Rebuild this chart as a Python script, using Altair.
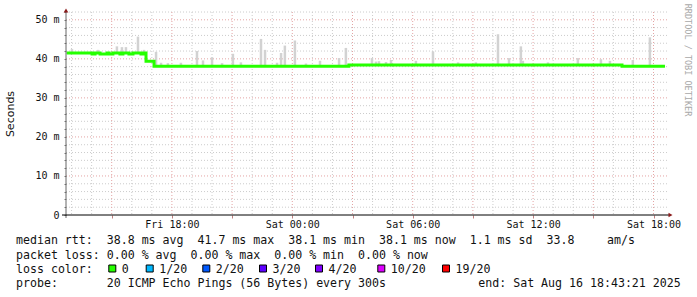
import altair as alt
import pandas as pd

# ---------------- data (time = hours since Fri 2025-08-15 00:00) ----------------
T_START = 12.7225   # Fri 12:43:21
T_END = 42.7225     # Sat 18:43:21

median_t = [12.76, 14.02, 14.17, 14.42, 14.77, 14.87, 15.06, 15.41, 15.56, 15.86,
            16.06, 16.46, 16.56, 16.71, 17.11, 26.82, 40.43, 42.57]
median_ms = [41.5, 41.25, 41.5, 41.25, 41.5, 41.25, 41.5, 41.25, 41.5, 41.25,
             41.5, 41.25, 41.5, 39.4, 38.1, 38.4, 38.1, 38.1]

smoke_t = [13.02, 14.32, 15.26, 15.51, 15.71, 16.31, 16.61, 17.21, 17.46, 17.80,
           18.45, 19.25, 19.55, 20.00, 20.50, 21.04, 21.44, 22.44, 22.64, 23.24,
           23.44, 23.63, 24.13, 24.68, 25.38, 26.33, 26.67, 27.97, 28.17, 28.32,
           28.67, 28.92, 30.16, 31.01, 32.26, 33.15, 34.25, 34.80, 35.39, 35.49,
           36.74, 38.23, 39.38, 39.83, 40.97, 41.82]
smoke_top = [42.5, 42.3, 43.2, 43.0, 43.0, 45.7, 42.3, 41.8, 39.0, 38.9,
             39.0, 42.0, 39.6, 40.4, 38.9, 41.3, 39.1, 45.1, 42.3, 39.0,
             41.5, 43.4, 44.7, 38.8, 39.5, 40.2, 42.8, 40.2, 39.3, 39.4,
             39.2, 39.7, 39.5, 41.9, 39.1, 39.1, 46.3, 40.2, 43.2, 39.5,
             39.1, 40.2, 39.9, 39.5, 39.7, 45.5]

y_label_values = [0, 10, 20, 30, 40, 50]
x_label_hours = [18, 24, 30, 36, 42]
x_label_texts = ["Fri 18:00", "Sat 00:00", "Sat 06:00", "Sat 12:00", "Sat 18:00"]

stats_line = "median rtt:  38.8 ms avg  41.7 ms max  38.1 ms min  38.1 ms now  1.1 ms sd  33.8"
stats_unit = "am/s"
loss_line = "packet loss: 0.00 % avg  0.00 % max  0.00 % min  0.00 % now"
probe_line = "probe:       20 ICMP Echo Pings (56 Bytes) every 300s"
end_text = "end: Sat Aug 16 18:43:21 2025"
loss_labels = ["0", "1/20", "2/20", "3/20", "4/20", "10/20", "19/20"]
loss_colors = ["#26ff00", "#00b8ff", "#0059ff", "#5e00ff", "#7e00ff", "#dd00ff", "#ff0000"]

# ---------------- layout ----------------
W, H = 602, 203
PAD = {"left": 66, "top": 12, "right": 29, "bottom": 82}
MONO = "DejaVu Sans Mono"
legend_sq_px = [112.3, 149.7, 206.3, 263.0, 319.0, 381.3, 446.0]   # absolute px centres


def nb(s):
    return s.replace(" ", "\u00a0")


def median_at(t):
    v = median_ms[0]
    for tt, mv in zip(median_t, median_ms):
        if tt <= t:
            v = mv
    return v


med_df = pd.DataFrame({"t": median_t, "v": median_ms})
smoke_df = pd.DataFrame({"t": smoke_t, "v": [median_at(t) for t in smoke_t], "v2": smoke_top})

hours = list(range(13, 43))
grid_x_minor = pd.DataFrame({"t": [h for h in hours if h % 3 != 0]})
grid_x_major = pd.DataFrame({"t": [h for h in hours if h % 3 == 0]})
grid_y_minor = pd.DataFrame({"v": [v for v in range(2, 53, 2) if v % 10 != 0]})
grid_y_major = pd.DataFrame({"v": [v for v in range(10, 51, 10)]})

xs = alt.Scale(domain=[T_START, T_END], nice=False, zero=False)
ys = alt.Scale(domain=[0, 52], nice=False, zero=True)

x_expr = " : ".join(
    f"datum.value == {h} ? '{lab}'" for h, lab in zip(x_label_hours, x_label_texts)
) + " : ''"
X_AX = alt.Axis(
    values=list(range(15, 43, 3)), labelExpr=x_expr, title=None, domain=False, grid=False,
    tickSize=3, tickColor="#c08080", labelFont=MONO, labelFontSize=10, labelColor="#111",
    labelPadding=1, labelAngle=0, labelFlush=False, labelOverlap=False,
)
Y_AX = alt.Axis(
    values=list(range(0, 53, 2)),
    labelExpr="datum.value % 10 == 0 ? (datum.value == 0 ? '0' : datum.value + ' m') : ''",
    title=None, domain=False, grid=False, tickSize=2, tickColor="#777",
    labelFont=MONO, labelFontSize=10, labelColor="#111", labelPadding=5,
)

X = alt.X("t:Q", scale=xs, axis=X_AX)
Y = alt.Y("v:Q", scale=ys, axis=Y_AX)

dot = [1, 2]
l_gx_minor = alt.Chart(grid_x_minor).mark_rule(color="#cccccc", strokeDash=dot, strokeWidth=1).encode(
    x=X, y=alt.value(0), y2=alt.value(H))
l_gx_major = alt.Chart(grid_x_major).mark_rule(color="#e4a4a4", strokeDash=dot, strokeWidth=1).encode(
    x=X, y=alt.value(0), y2=alt.value(H))
l_gy_minor = alt.Chart(grid_y_minor).mark_rule(color="#cccccc", strokeDash=dot, strokeWidth=1).encode(
    y=Y, x=alt.value(0), x2=alt.value(W))
l_gy_major = alt.Chart(grid_y_major).mark_rule(color="#e4a4a4", strokeDash=dot, strokeWidth=1).encode(
    y=Y, x=alt.value(0), x2=alt.value(W))

l_smoke = alt.Chart(smoke_df).mark_rule(color="#d2d2d2", strokeWidth=2.5).encode(
    x=X, y=Y, y2="v2:Q")

l_med_black = alt.Chart(med_df).mark_line(color="#000000", strokeWidth=1, interpolate="step-after").encode(
    x=X, y=Y)
l_med = alt.Chart(med_df).mark_line(color="#26ff00", strokeWidth=3, interpolate="step-after").encode(
    x=X, y=Y)

one = pd.DataFrame({"a": [0]})
l_yaxis = alt.Chart(one).mark_rule(color="#666666", strokeWidth=1).encode(
    x=alt.value(0), x2=alt.value(0), y=alt.value(-2), y2=alt.value(H + 3))
l_xaxis = alt.Chart(one).mark_rule(color="#000000", strokeWidth=1).encode(
    x=alt.value(-4), x2=alt.value(W + 1), y=alt.value(H), y2=alt.value(H))
l_yarrow = alt.Chart(one).mark_point(shape="triangle-up", filled=True, color="#8b1c1c", size=22, opacity=1).encode(
    x=alt.value(0), y=alt.value(-1.5))
l_xarrow = alt.Chart(one).mark_point(shape="triangle-right", filled=True, color="#8b1c1c", size=22, opacity=1).encode(
    x=alt.value(W + 2.5), y=alt.value(H))

l_ytitle = alt.Chart(one).mark_text(text="Seconds", font="DejaVu Sans", fontSize=11, angle=270,
                                    color="#111", align="center", baseline="middle").encode(
    x=alt.value(10.5 - PAD["left"]), y=alt.value(114 - PAD["top"]))
l_rrd = alt.Chart(one).mark_text(text="RRDTOOL / TOBI OETIKER", font=MONO, fontSize=8.5, angle=90,
                                 color="#a8a8a8", align="center", baseline="middle").encode(
    x=alt.value(687.5 - PAD["left"]), y=alt.value(60 - PAD["top"]))

LX = 16 - PAD["left"]
row_y = [241 - PAD["top"], 255.5 - PAD["top"], 269.5 - PAD["top"], 283.7 - PAD["top"]]
FS = 11.6


def txt(s, x, y):
    return alt.Chart(one).mark_text(text=nb(s), font=MONO, fontSize=FS, color="#111",
                                    align="left", baseline="middle").encode(
        x=alt.value(x), y=alt.value(y))


l_t1 = txt(stats_line, LX, row_y[0])
l_t1b = txt(stats_unit, 607 - PAD["left"], row_y[0])
l_t2 = txt(loss_line, LX, row_y[1])
l_t3 = txt("loss color:", LX, row_y[2])
l_t4 = txt(probe_line, LX, row_y[3])
l_t5 = txt(end_text, 478.3 - PAD["left"], row_y[3])

leg_df = pd.DataFrame({
    "label": [nb(s) for s in loss_labels],
    "color": loss_colors,
    "px": [p - PAD["left"] for p in legend_sq_px],
    "tx": [p - PAD["left"] + 9.5 for p in legend_sq_px],
})
l_sq = alt.Chart(leg_df).mark_square(size=49, stroke="#000", strokeWidth=1, opacity=1).encode(
    x=alt.X("px:Q", scale=None), y=alt.value(row_y[2] - 1),
    fill=alt.Fill("color:N", scale=None))
l_sqt = alt.Chart(leg_df).mark_text(font=MONO, fontSize=FS, color="#111", align="left", baseline="middle").encode(
    x=alt.X("tx:Q", scale=None), y=alt.value(row_y[2]), text="label:N")

chart = alt.layer(
    l_gx_minor, l_gy_minor, l_gx_major, l_gy_major, l_smoke, l_med_black, l_med,
    l_yaxis, l_xaxis, l_yarrow, l_xarrow, l_ytitle, l_rrd,
    l_t1, l_t1b, l_t2, l_t3, l_t4, l_t5, l_sq, l_sqt,
).properties(
    width=W, height=H, padding=PAD, autosize=alt.AutoSizeParams(type="none"),
    background="white",
).configure_view(stroke=None)

chart.save("out.html", embed_options={"renderer": "svg", "actions": False})
